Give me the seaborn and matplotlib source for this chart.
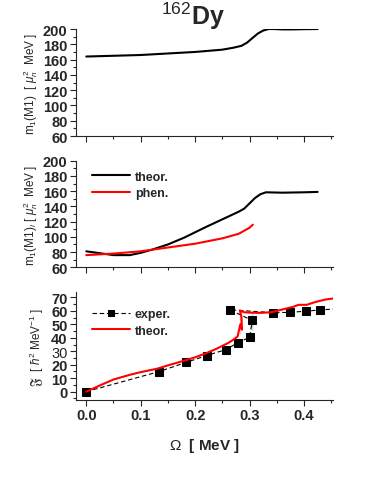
import numpy as np
import pandas as pd
import matplotlib
matplotlib.use("Agg")
import matplotlib.pyplot as plt
from matplotlib.ticker import MultipleLocator
import seaborn as sns

sns.set_style("ticks")
plt.rcParams["font.family"] = ["Liberation Sans", "DejaVu Sans"]
plt.rcParams["mathtext.fontset"] = "custom"
plt.rcParams["mathtext.rm"] = "Liberation Sans"
plt.rcParams["mathtext.it"] = "Liberation Sans:italic"
plt.rcParams["mathtext.bf"] = "Liberation Sans:bold"

# ── 資料 ──
# 上圖 m1(M1)
top_x = [0.0, 0.05, 0.10, 0.15, 0.20, 0.25, 0.27, 0.285, 0.295, 0.305,
         0.315, 0.325, 0.335, 0.345, 0.36, 0.38, 0.40, 0.425]
top_y = [164, 165, 166, 168, 170, 173, 175.5, 178, 182, 188,
         194, 198, 200, 200, 199.5, 199.5, 199.8, 200]

# 中圖 m1(M1)_l
mid_theor_x = [0.0, 0.02, 0.05, 0.08, 0.10, 0.12, 0.15, 0.18, 0.20, 0.22,
               0.25, 0.28, 0.29, 0.30, 0.31, 0.32, 0.33, 0.36, 0.40, 0.425]
mid_theor_y = [81, 79, 76, 76, 79, 83, 90, 99, 106, 113,
               123, 133, 137, 144, 151, 156, 158.5, 158, 158.5, 159]
mid_phen_x = [0.0, 0.05, 0.10, 0.15, 0.20, 0.25, 0.28, 0.30, 0.306]
mid_phen_y = [76, 78, 81, 86, 91, 98, 104, 112, 116]

# 下圖 轉動慣量
exp_x = [0.0, 0.133, 0.184, 0.221, 0.256, 0.279, 0.300, 0.305,
         0.2635, 0.305, 0.343, 0.374, 0.404, 0.430, 0.47]
exp_y = [0.0, 14.8, 21.8, 26.8, 31.2, 36.4, 40.4, 46.0,
         60.8, 59.8, 58.7, 58.9, 59.8, 60.7, 61.8]
th_x = [0.0, 0.03, 0.05, 0.08, 0.10, 0.13, 0.15, 0.18, 0.20, 0.22,
        0.24, 0.26, 0.27, 0.278, 0.283, 0.286, 0.285, 0.283, 0.282,
        0.285, 0.29, 0.30, 0.32, 0.34, 0.36, 0.38, 0.39, 0.405, 0.42,
        0.44, 0.46]
th_y = [0.0, 5.5, 9.0, 12.5, 14.5, 17.0, 19.5, 23.0, 25.5, 28.5,
        32.0, 36.0, 38.5, 41.0, 43.0, 46.0, 52.0, 57.0, 60.3,
        59.6, 59.0, 58.7, 58.5, 59.0, 61.0, 63.0, 64.5, 64.5, 66.5,
        68.5, 69.5]

# ── 圖 ──
fig = plt.figure(figsize=(3.74, 4.85), dpi=100)
ax1 = fig.add_axes([0.203, 0.7175, 0.687, 0.2206])
ax2 = fig.add_axes([0.203, 0.4468, 0.687, 0.2198])
ax3 = fig.add_axes([0.203, 0.1738, 0.687, 0.222])

sns.lineplot(x=top_x, y=top_y, color="black", lw=1.5, ax=ax1)

sns.lineplot(x=mid_theor_x, y=mid_theor_y, color="black", lw=1.5,
             label="theor.", ax=ax2)
sns.lineplot(x=mid_phen_x, y=mid_phen_y, color="red", lw=1.5,
             label="phen.", ax=ax2)

sns.lineplot(x=exp_x, y=exp_y, sort=False, color="black", lw=0.8,
             linestyle=(0, (4, 2.5)), marker="s", markersize=5.5,
             markeredgecolor="black", label="exper.", ax=ax3)
sns.lineplot(x=th_x, y=th_y, sort=False, color="red", lw=1.5,
             label="theor.", ax=ax3)

for ax in (ax1, ax2, ax3):
    ax.set_xlim(-0.019, 0.453)
    ax.xaxis.set_major_locator(MultipleLocator(0.1))
    ax.xaxis.set_minor_locator(MultipleLocator(0.05))
    ax.spines["top"].set_visible(False)
    ax.spines["right"].set_visible(False)
    ax.tick_params(which="major", direction="out", length=4, width=0.8,
                   labelsize=10.5, pad=2)
    ax.tick_params(which="minor", direction="out", length=2, width=0.8)
    for lab in ax.get_yticklabels() + ax.get_xticklabels():
        lab.set_fontweight("bold")

for ax in (ax1, ax2):
    ax.set_ylim(60, 200)
    ax.yaxis.set_major_locator(MultipleLocator(20))
    ax.yaxis.set_minor_locator(MultipleLocator(10))
    ax.tick_params(axis="x", labelbottom=False)

ax3.set_ylim(-6, 74)
ax3.yaxis.set_major_locator(MultipleLocator(10))
ax3.yaxis.set_minor_locator(MultipleLocator(5))
ax3.set_xticks([0.0, 0.1, 0.2, 0.3, 0.4])
ax3.set_xticklabels(["0.0", "0.1", "0.2", "0.3", "0.4"], fontweight="bold")

ax1.set_ylabel(r"m$_1$(M1)  [ $\mu_n^2$  MeV ]", fontsize=8.5, labelpad=2)
ax2.set_ylabel(r"m$_1$(M1)$_l$ [ $\mu_n^2$  MeV ]", fontsize=8.5, labelpad=2)
ax3.set_ylabel(r"$\mathfrak{F}$  [ $\hbar^2$ MeV$^{-1}$ ]", fontsize=8.5,
               labelpad=4)
ax3.set_xlabel(r"$\Omega$  [ MeV ]", fontsize=11, fontweight="bold",
               labelpad=10)

for ax, anchor in ((ax2, (0.03, 0.99)), (ax3, (0.03, 0.93))):
    leg = ax.legend(loc="upper left", frameon=False, fontsize=9,
                    handlelength=3.0, borderaxespad=0.3,
                    bbox_to_anchor=anchor, labelspacing=0.35,
                    handletextpad=0.4, markerscale=0.85)
    for t in leg.get_texts():
        t.set_fontweight("bold")

fig.text(0.515, 0.999, r"$^{162}$Dy", ha="center", va="top",
         fontsize=18, fontweight="bold")

fig.savefig("out.png", dpi=100)
